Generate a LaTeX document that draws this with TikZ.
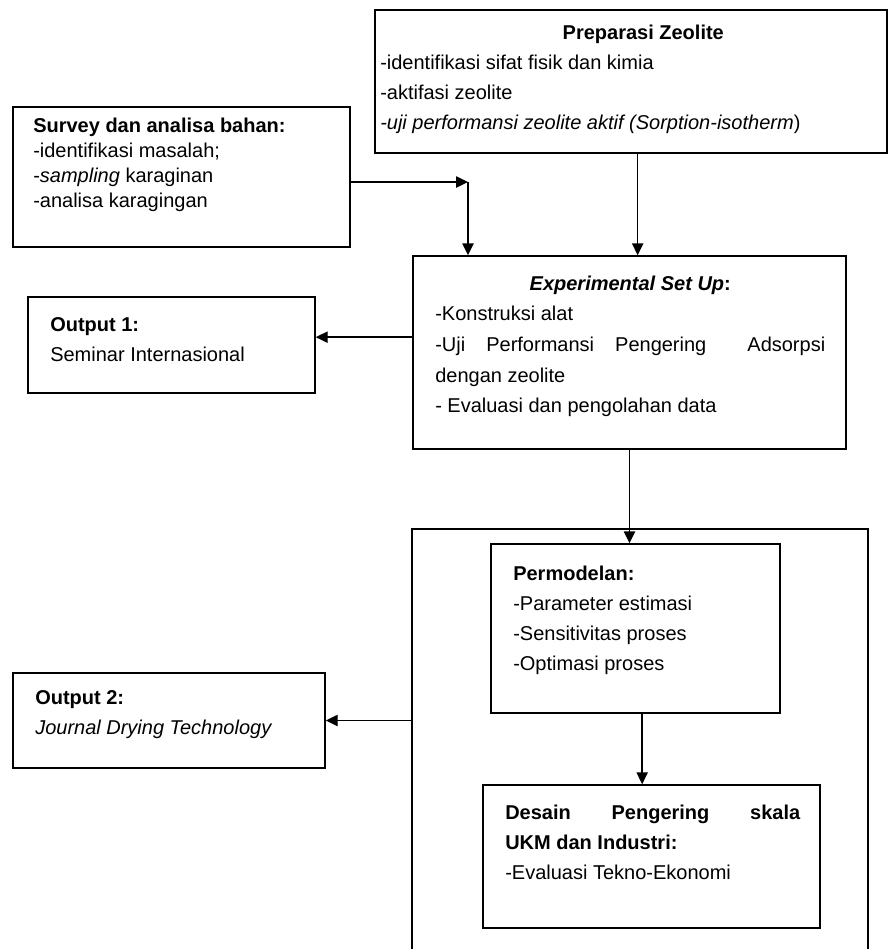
\documentclass[tikz,border=0pt]{standalone}
\usepackage{fontspec}
\setmainfont{Liberation Sans}
\usetikzlibrary{positioning,arrows.meta}

\begin{document}
\begin{tikzpicture}[x=0.75pt, y=-0.75pt,
    box/.style={draw, line width=1.1pt, rectangle, inner sep=0pt},
    txt/.style={anchor=north west, align=left, inner sep=0pt,
        font=\fontsize{15}{22.5}\selectfont},
    arr/.style={line width=1.1pt, -{Triangle[length=9pt, width=8.5pt]}}]

    \useasboundingbox (0,0) rectangle (891,949);
    \clip (0,0) rectangle (891,949);

    % boxes
    \node[box, minimum width=384pt, minimum height=107.25pt] (prep) at (631, 81.5) {};
    \node[box, minimum width=252.75pt, minimum height=105pt] (survey) at (181.5, 177) {};
    \node[box, minimum width=324.75pt, minimum height=144.75pt] (exp) at (629.5, 352.5) {};
    \node[box, minimum width=215.25pt, minimum height=72pt] (out1) at (171.5, 345) {};
    \node[box, minimum width=342pt, minimum height=323.25pt] (sim) at (640, 744.5) {};
    \node[box, minimum width=216.75pt, minimum height=126.75pt] (perm) at (635.5, 628.5) {};
    \node[box, minimum width=252.75pt, minimum height=107.25pt] (des) at (651.5, 856.5) {};
    \node[box, minimum width=234pt, minimum height=71.25pt] (out2) at (169, 720.5) {};

    % texts
    \node[txt] (preptxt) at (380, 24.5) {%
        \makebox[394.5pt][c]{\bfseries Preparasi Zeolite}\\
        -identifikasi sifat fisik dan kimia\\
        -aktifasi zeolite\\
        \textit{-uji performansi zeolite aktif (Sorption-isotherm})};
    \node[txt, font=\fontsize{15}{18.75}\selectfont] (surveytxt) at (33, 117.5) {%
        \textbf{Survey dan analisa bahan:}\\
        -identifikasi masalah;\\
        -\textit{sampling} karaginan\\
        -analisa karagingan};
    \node[txt, font=\fontsize{15}{23}\selectfont] (exptxt) at (435, 275.5) {%
        \makebox[292.5pt][c]{\textbf{\textit{Experimental Set Up}:}}\\
        -Konstruksi alat\\
        \makebox[292.5pt][s]{-Uji Performansi Pengering \quad Adsorpsi}\\
        dengan zeolite\\
        - Evaluasi dan pengolahan data};
    \node[txt] (out1txt) at (50, 317.5) {%
        \textbf{Output 1:}\\
        Seminar Internasional};
    \node[txt] (permtxt) at (513, 565.5) {%
        \textbf{Permodelan:}\\
        -Parameter estimasi\\
        -Sensitivitas proses\\
        -Optimasi proses};
    \node[txt] (destxt) at (505, 804.5) {%
        \makebox[221.25pt][s]{\bfseries Desain Pengering skala}\\
        \textbf{UKM dan Industri:}\\
        -Evaluasi Tekno-Ekonomi};
    \node[txt] (out2txt) at (35, 690.5) {%
        \textbf{Output 2:}\\
        \textit{Journal Drying Technology}};

    % connectors
    \coordinate (turn) at (468, 182);
    \draw[arr] (survey.east |- turn) -- (turn);
    \draw[arr] (turn) -- (turn |- exp.north);
    \draw[arr] ([xshift=5pt]prep.south) -- ([xshift=5pt]prep.south |- exp.north);
    \draw[arr] ([yshift=11.5pt]exp.west) -- ([yshift=11.5pt]exp.west -| out1.east);
    \draw[arr] (exp.south) -- (exp.south |- perm.north);
    \draw[arr] ([xshift=5pt]perm.south) -- ([xshift=5pt]perm.south |- des.north);
    \draw[arr] (out2.east -| sim.west) -- (out2.east);
\end{tikzpicture}
\end{document}
